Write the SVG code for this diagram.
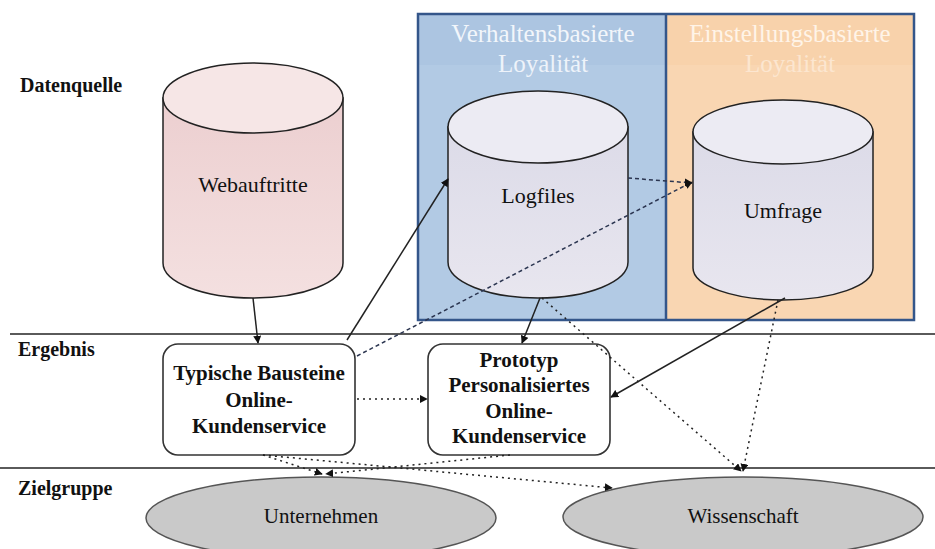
<svg xmlns="http://www.w3.org/2000/svg" width="935" height="549" viewBox="0 0 935 549">
<defs>
<marker id="ah" viewBox="0 0 10 10" refX="9" refY="5" markerWidth="8" markerHeight="8" markerUnits="userSpaceOnUse" orient="auto"><path d="M0,0 L10,5 L0,10 z" fill="#111"/></marker>
<linearGradient id="gPink" x1="0" y1="0" x2="0" y2="1"><stop offset="0" stop-color="#eccfd0"/><stop offset="1" stop-color="#f4e0e0"/></linearGradient>
<linearGradient id="gLav" x1="0" y1="0" x2="0" y2="1"><stop offset="0" stop-color="#dcdbe8"/><stop offset="1" stop-color="#e8e6ef"/></linearGradient>
</defs>
<style>
.lbl{font-family:"Liberation Serif","Times New Roman",serif;font-weight:bold;font-size:20px;fill:#111}
.t{font-family:"Liberation Serif","Times New Roman",serif;font-size:22px;fill:#111;text-anchor:middle}
.bt{font-family:"Liberation Serif","Times New Roman",serif;font-weight:bold;font-size:21px;fill:#111;text-anchor:middle}
.hd{font-family:"Liberation Serif","Times New Roman",serif;font-size:25px;text-anchor:middle}
.sep{stroke:#5a5a5a;stroke-width:2}
.cyl{stroke:#222;stroke-width:1.5}
.box{fill:#fff;stroke:#333;stroke-width:1.6}
.ell{fill:#c9c9c9;stroke:#555;stroke-width:1.5}
.c{fill:none;stroke:#222;stroke-width:1.5;marker-end:url(#ah)}
.dash{stroke-dasharray:4 3;stroke:#2b3550}
.dot{stroke-dasharray:2 4}
</style>
<rect width="935" height="549" fill="#fff"/>

<g id="panels">
<rect x="418" y="14" width="248" height="306" fill="#b2cae4"/>
<rect x="418" y="14" width="248" height="51" fill="#acc5e1"/>
<rect x="666" y="14" width="248" height="306" fill="#f9d6b2"/>
<rect x="666" y="14" width="248" height="51" fill="#f8d2ab"/>
<rect x="418" y="14" width="496" height="306" fill="none" stroke="#34568a" stroke-width="2.5"/>
<line x1="666" y1="14" x2="666" y2="320" stroke="#34568a" stroke-width="2.5"/>
<text class="hd" x="543" y="42" fill="#f2f6fb">Verhaltensbasierte</text>
<text class="hd" x="543" y="72" fill="#eef3fa">Loyalität</text>
<text class="hd" x="790" y="42" fill="#fff4e8">Einstellungsbasierte</text>
<text class="hd" x="790" y="72" fill="#fce6d0">Loyalität</text>
</g>

<g id="rows">
<line class="sep" x1="10" y1="334" x2="935" y2="334"/>
<line class="sep" x1="0" y1="468" x2="935" y2="468"/>
<text class="lbl" x="20" y="92">Datenquelle</text>
<text class="lbl" x="18" y="356">Ergebnis</text>
<text class="lbl" x="18" y="495">Zielgruppe</text>
</g>

<g id="webauftritte">
<path class="cyl" fill="url(#gPink)" d="M163,98 L163,263 A90,35 0 0 0 343,263 L343,98 Z"/>
<ellipse class="cyl" cx="253" cy="98" rx="90" ry="35" fill="#f6e6e6"/>
<text class="t" x="253" y="192">Webauftritte</text>
</g>

<g id="logfiles">
<path class="cyl" fill="url(#gLav)" d="M448,127 L448,262 A90,36 0 0 0 628,262 L628,127 Z"/>
<ellipse class="cyl" cx="538" cy="127" rx="90" ry="36" fill="#ecebf3"/>
<text class="t" x="538" y="203">Logfiles</text>
</g>

<g id="umfrage">
<path class="cyl" fill="url(#gLav)" d="M693,132 L693,268 A90,32 0 0 0 873,268 L873,132 Z"/>
<ellipse class="cyl" cx="783" cy="132" rx="90" ry="32" fill="#ecebf3"/>
<text class="t" x="783" y="218">Umfrage</text>
</g>

<g id="bausteine">
<rect class="box" x="163" y="344" width="192" height="111" rx="15"/>
<text class="bt" x="259" y="380">Typische Bausteine</text>
<text class="bt" x="259" y="407">Online-</text>
<text class="bt" x="259" y="433">Kundenservice</text>
</g>

<g id="prototyp">
<rect class="box" x="428" y="344" width="182" height="111" rx="15"/>
<text class="bt" x="519" y="367">Prototyp</text>
<text class="bt" x="519" y="392">Personalisiertes</text>
<text class="bt" x="519" y="418">Online-</text>
<text class="bt" x="519" y="443">Kundenservice</text>
</g>

<g id="unternehmen">
<ellipse class="ell" cx="321" cy="518" rx="175" ry="41"/>
<text class="t" x="321" y="523" style="font-size:21px">Unternehmen</text>
</g>

<g id="wissenschaft">
<ellipse class="ell" cx="743" cy="517" rx="180" ry="40"/>
<text class="t" x="743" y="523" style="font-size:21px">Wissenschaft</text>
</g>

<g id="connectors">
<line class="c" x1="253" y1="298" x2="258" y2="343"/>
<line class="c" x1="347" y1="340" x2="448" y2="179"/>
<line class="c dash" x1="357" y1="356" x2="692" y2="182"/>
<line class="c dash" x1="628" y1="178" x2="692" y2="183"/>
<line class="c dot" x1="357" y1="399" x2="427" y2="399"/>
<line class="c" x1="540" y1="298" x2="522" y2="343"/>
<line class="c dot" x1="542" y1="298" x2="741" y2="471"/>
<line class="c" x1="785" y1="298" x2="611" y2="397"/>
<line class="c dot" x1="778" y1="300" x2="743" y2="471"/>
<line class="c dot" x1="263" y1="455" x2="612" y2="488"/>
<line class="c dot" x1="263" y1="455" x2="322" y2="474"/>
<line class="c dot" x1="510" y1="455" x2="326" y2="474"/>
</g>
</svg>
